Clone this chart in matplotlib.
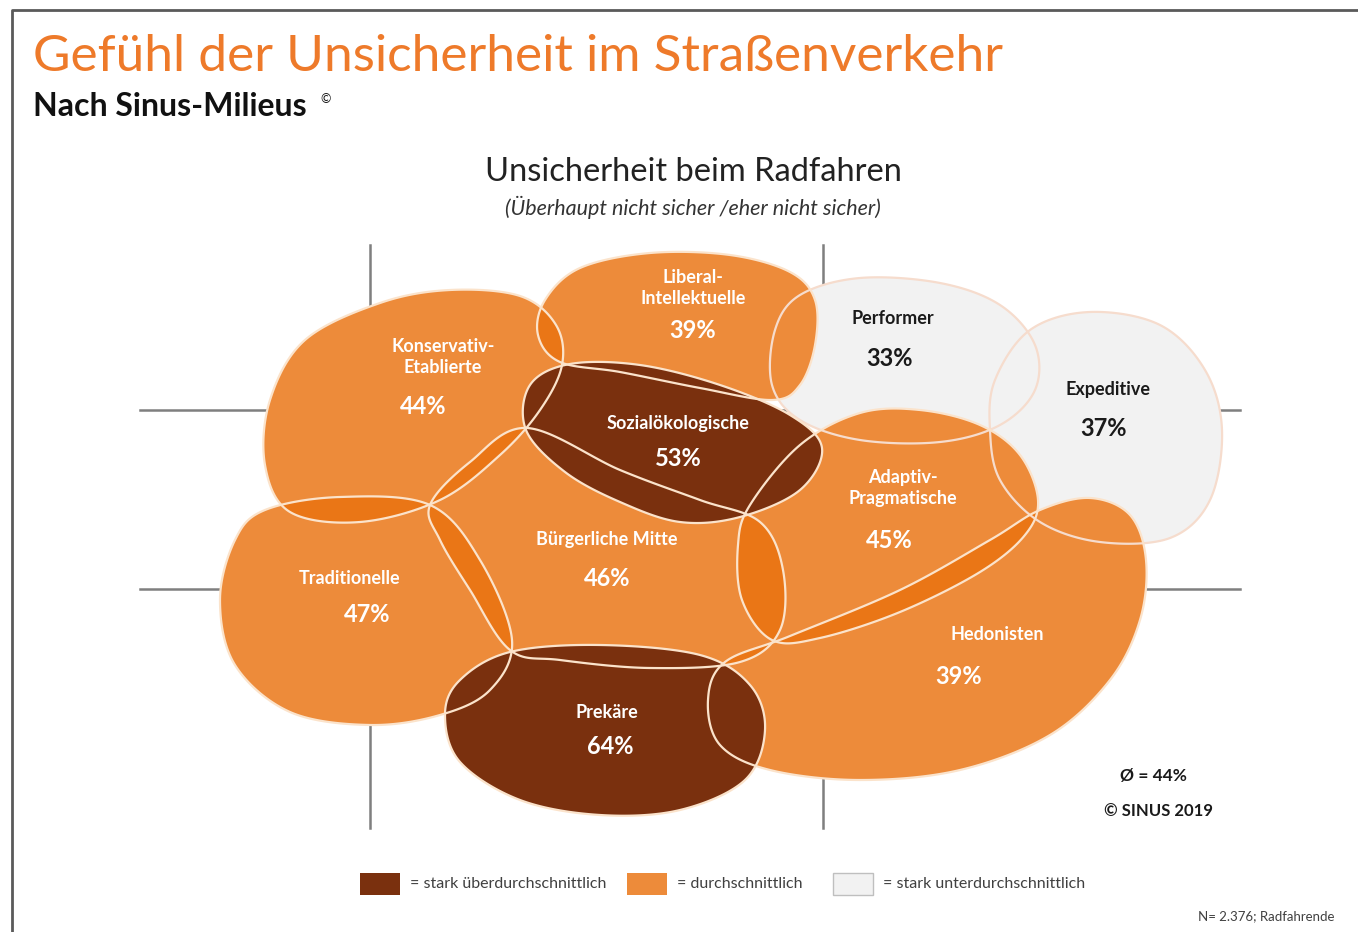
import numpy as np
import matplotlib.pyplot as plt
from matplotlib.patches import Polygon, Rectangle

plt.rcParams['font.family'] = ['Lato', 'DejaVu Sans']

# ---------------- data ----------------
milieus = ['Performer', 'Expeditive', 'Konservativ-\nEtablierte', 'Liberal-\nIntellektuelle',
           'Traditionelle', 'Bürgerliche Mitte', 'Adaptiv-\nPragmatische', 'Hedonisten',
           'Sozialökologische', 'Prekäre']
werte = [33, 37, 44, 39, 47, 46, 45, 39, 53, 64]
# 0 = stark überdurchschnittlich, 1 = durchschnittlich, 2 = stark unterdurchschnittlich
klasse = [2, 2, 1, 1, 1, 1, 1, 1, 0, 0]
legend_labels = ['= stark überdurchschnittlich', '= durchschnittlich', '= stark unterdurchschnittlich']
mittel = 44

# ---------------- layout (pixel coords, y down) ----------------
shapes = [
    [(775, 330), (800, 295), (860, 278), (940, 283), (1000, 305), (1035, 345), (1035, 390),
     (1000, 425), (940, 442), (860, 440), (800, 420), (772, 385)],
    [(995, 380), (1030, 330), (1090, 312), (1160, 325), (1205, 370), (1222, 430), (1210, 500),
     (1170, 538), (1100, 542), (1040, 522), (1000, 480), (990, 430)],
    [(520, 296), (556, 325), (562, 365), (540, 410), (500, 455), (440, 500), (360, 522),
     (290, 512), (265, 465), (270, 400), (305, 340), (380, 303), (450, 290)],
    [(545, 300), (580, 268), (650, 253), (730, 255), (790, 272), (815, 300), (815, 345),
     (800, 385), (772, 400), (700, 388), (620, 372), (560, 362), (538, 335)],
    [(265, 510), (340, 497), (430, 505), (480, 560), (512, 640), (490, 690), (440, 715),
     (370, 725), (290, 712), (235, 665), (220, 600), (235, 540)],
    [(430, 505), (470, 462), (527, 428), (620, 470), (700, 500), (760, 522), (783, 570),
     (780, 630), (740, 662), (650, 668), (560, 660), (510, 650), (470, 590), (440, 540)],
    [(750, 505), (800, 445), (860, 413), (920, 410), (980, 425), (1020, 455), (1038, 500),
     (1025, 535), (980, 572), (900, 612), (820, 638), (772, 640), (742, 600), (738, 545)],
    [(1040, 510), (1090, 498), (1130, 515), (1146, 560), (1140, 620), (1110, 680), (1050, 735),
     (960, 770), (860, 780), (770, 770), (720, 745), (708, 700), (725, 662), (790, 636),
     (900, 590), (990, 540)],
    [(530, 385), (570, 364), (640, 365), (720, 385), (790, 415), (822, 448), (800, 490),
     (740, 517), (680, 522), (620, 502), (565, 472), (526, 430)],
    [(460, 680), (510, 652), (600, 645), (700, 655), (750, 685), (765, 730), (745, 780),
     (680, 810), (600, 815), (520, 800), (460, 762), (445, 715)],
]
name_pos = [(893, 319), (1108, 389), (443, 357), (693, 288), (350, 578), (607, 540),
            (903, 488), (997, 634), (678, 424), (607, 712)]
pct_pos = [(890, 358), (1104, 428), (423, 407), (693, 330), (367, 614), (607, 579),
           (889, 540), (959, 676), (678, 459), (610, 746)]

fill_cols = ['#7A300E', '#EA720F', '#F2F2F2']
fill_alpha = [1.0, 0.82, 1.0]
text_cols = ['white', 'white', '#1A1A1A']
edge_cols = ['#FBE3CB', '#FBE3CB', '#F6DCCD']


def smooth(pts, n=30):
    P = np.array(pts, float)
    N = len(P)
    t = np.linspace(0, 1, n, endpoint=False)[:, None]
    out = []
    for i in range(N):
        p0, p1, p2, p3 = P[i - 1], P[i], P[(i + 1) % N], P[(i + 2) % N]
        out.append(0.5 * (2 * p1 + (-p0 + p2) * t + (2 * p0 - 5 * p1 + 4 * p2 - p3) * t ** 2
                          + (-p0 + 3 * p1 - 3 * p2 + p3) * t ** 3))
    return np.vstack(out)


fig = plt.figure(figsize=(13.58, 9.32), dpi=100)
ax = fig.add_axes([0, 0, 1, 1])
ax.set_xlim(0, 1358)
ax.set_ylim(932, 0)
ax.axis('off')

# frame
ax.plot([12, 12, 1358], [932, 10, 10], color='#5A5A5A', lw=2, zorder=1)

# axis cross lines
for xv in (370, 823):
    ax.plot([xv, xv], [245, 828], color='#7F7F7F', lw=1.8, zorder=1)
for yv in (410, 589):
    ax.plot([140, 1240], [yv, yv], color='#7F7F7F', lw=1.8, zorder=1)

# fills: grey first, then white underlay + orange, then brown
for i in range(len(milieus)):
    if klasse[i] == 2:
        ax.add_patch(Polygon(smooth(shapes[i]), closed=True, facecolor=fill_cols[2],
                             edgecolor='none', zorder=2))
    elif klasse[i] == 1:
        ax.add_patch(Polygon(smooth(shapes[i]), closed=True, facecolor='white',
                             edgecolor='none', zorder=2.2))
        ax.add_patch(Polygon(smooth(shapes[i]), closed=True, facecolor=fill_cols[1],
                             alpha=fill_alpha[1], edgecolor='none', zorder=2.4))
    else:
        ax.add_patch(Polygon(smooth(shapes[i]), closed=True, facecolor=fill_cols[0],
                             edgecolor='none', zorder=2.6))
for i in range(len(milieus)):
    ax.add_patch(Polygon(smooth(shapes[i]), closed=True, facecolor='none',
                         edgecolor=edge_cols[klasse[i]], lw=1.6, zorder=4))

for i, name in enumerate(milieus):
    c = text_cols[klasse[i]]
    ax.text(*name_pos[i], name, ha='center', va='center', fontsize=13, fontweight='bold',
            color=c, linespacing=1.35, zorder=5)
    ax.text(*pct_pos[i], f'{werte[i]}%', ha='center', va='center', fontsize=17,
            fontweight='bold', color=c, zorder=5)

# titles
ax.text(33, 57, 'Gefühl der Unsicherheit im Straßenverkehr', fontsize=37, color='#EE7A2A',
        ha='left', va='center')
ax.text(33, 106, 'Nach Sinus-Milieus', fontsize=23, fontweight='bold', color='#111111',
        ha='left', va='center')
ax.text(320, 99, '©', fontsize=9, color='#111111', ha='left', va='center')
ax.text(693, 172, 'Unsicherheit beim Radfahren', fontsize=23.5, color='#222222',
        ha='center', va='center')
ax.text(693, 207, '(Überhaupt nicht sicher /eher nicht sicher)', fontsize=15.5,
        style='italic', color='#333333', ha='center', va='center')

ax.text(1153, 776, f'Ø = {mittel}%', fontsize=12.5, fontweight='bold', color='#1A1A1A',
        ha='center', va='center')
ax.text(1158, 811, '© SINUS 2019', fontsize=12, fontweight='bold', color='#1A1A1A',
        ha='center', va='center')

# legend
leg_x = [360, 627, 833]
for k, lab in enumerate(legend_labels):
    ax.add_patch(Rectangle((leg_x[k], 873), 40, 22, facecolor=fill_cols[k], alpha=fill_alpha[k],
                           edgecolor='#BFBFBF' if k == 2 else 'none', lw=1, zorder=3))
    ax.text(leg_x[k] + 50, 884, lab, fontsize=11.5, color='#404040', ha='left', va='center')

ax.text(1335, 916, 'N= 2.376; Radfahrende', fontsize=9.5, color='#404040', ha='right',
        va='center')

fig.savefig('out.png', dpi=100)
